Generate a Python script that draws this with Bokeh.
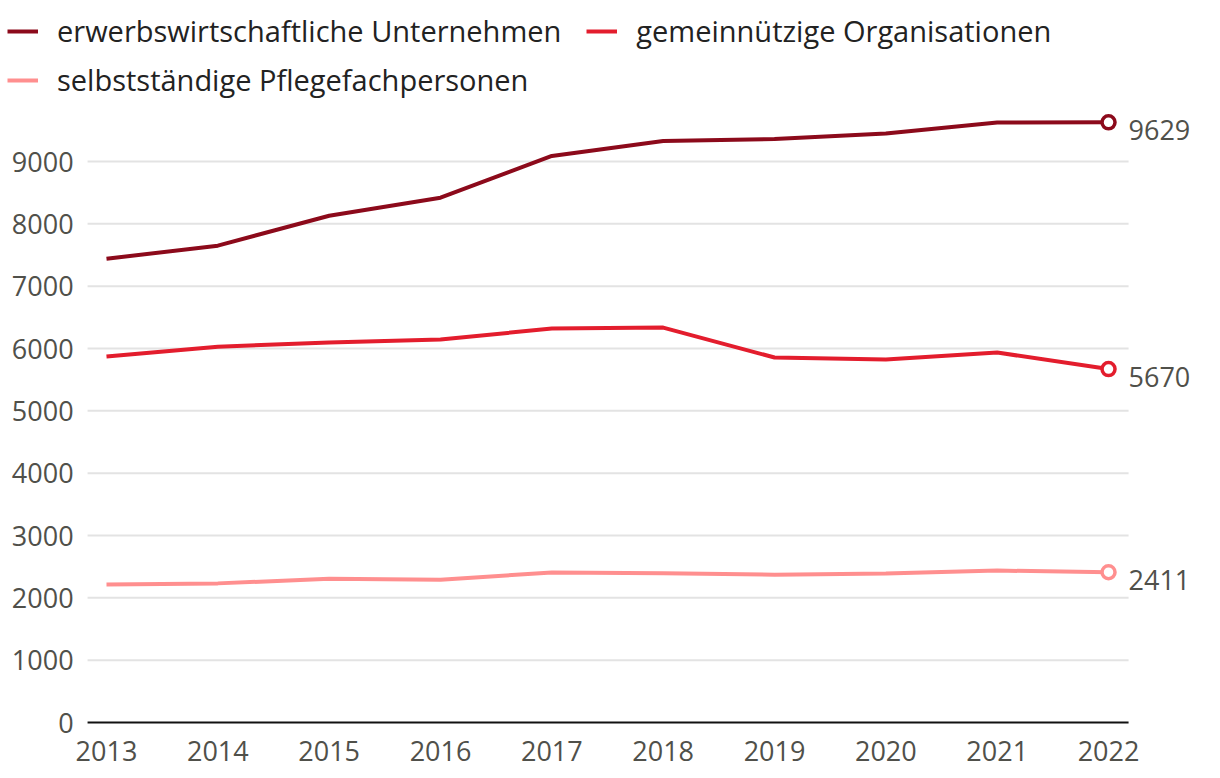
from bokeh.plotting import figure
from bokeh.models import ColumnDataSource, Legend, LegendItem, Range1d
from bokeh.core.properties import value
from bokeh.embed import file_html
from bokeh.resources import INLINE

years = [2013, 2014, 2015, 2016, 2017, 2018, 2019, 2020, 2021, 2022]
erwerb = [7440, 7650, 8130, 8420, 9090, 9330, 9360, 9450, 9625, 9629]
gemein = [5870, 6030, 6095, 6145, 6320, 6335, 5855, 5825, 5935, 5670]
selbst = [2215, 2232, 2305, 2292, 2405, 2395, 2372, 2392, 2437, 2411]
series_names = ["erwerbswirtschaftliche Unternehmen", "gemeinnützige Organisationen",
                "selbstständige Pflegefachpersonen"]
colors = ["#8c0a1b", "#e31d2d", "#ff8f8f"]
y_ticks = [0, 1000, 2000, 3000, 4000, 5000, 6000, 7000, 8000, 9000]
y_tick_labels = [str(v) for v in y_ticks]
x_tick_labels = [str(y) for y in years]

FONT = value("Open Sans")
TXT = "#50504a"

# plot-area extent in data units (frame of the reference chart)
X0, X1 = 2012.83, 2022.18

p = figure(width=1204, height=770, output_backend="svg", toolbar_location=None,
           x_range=Range1d(2012.048, 2022.862), y_range=Range1d(-770, 11583),
           min_border=0)
p.outline_line_color = None
p.axis.visible = False
p.grid.visible = False
p.background_fill_color = "white"
p.border_fill_color = "white"

# horizontal grid lines
grid_src = ColumnDataSource(dict(y=y_ticks[1:], x0=[X0] * (len(y_ticks) - 1),
                                 x1=[X1] * (len(y_ticks) - 1)))
p.segment(x0="x0", x1="x1", y0="y", y1="y", source=grid_src,
          line_color="#e3e3e3", line_width=2)
# baseline (x axis)
p.segment(x0=[X0], x1=[X1], y0=[0], y1=[0], line_color="#111111", line_width=2)

# y tick labels
ysrc = ColumnDataSource(dict(x=[X0] * len(y_ticks), y=y_ticks, t=y_tick_labels))
p.text(x="x", y="y", text="t", source=ysrc, x_offset=-14, text_align="right",
       text_baseline="middle", text_font=FONT, text_font_size="27px", text_color=TXT)
# x tick labels
xsrc = ColumnDataSource(dict(x=years, y=[0] * len(years), t=x_tick_labels))
p.text(x="x", y="y", text="t", source=xsrc, y_offset=28, text_align="center",
       text_baseline="middle", text_font=FONT, text_font_size="27px", text_color=TXT)

items = []
last_x, last_y, last_lbl = [], [], []
for name, vals, col in zip(series_names, [erwerb, gemein, selbst], colors):
    r = p.line(years, vals, line_color=col, line_width=4)
    p.scatter([years[-1]], [vals[-1]], marker="circle", size=13, fill_color="white",
              line_color=col, line_width=3.5)
    items.append(LegendItem(label=name, renderers=[r]))
    last_x.append(years[-1]); last_y.append(vals[-1]); last_lbl.append(str(vals[-1]))

lsrc = ColumnDataSource(dict(x=last_x, y=last_y, t=last_lbl))
p.text(x="x", y="y", text="t", source=lsrc, x_offset=20, y_offset=8,
       text_font=FONT, text_font_size="27px", text_color=TXT,
       text_baseline="middle", text_align="left")

common = dict(orientation="horizontal", label_text_font="Open Sans",
              label_text_font_size="29px", label_text_color="#222222",
              glyph_width=31, glyph_height=20, label_standoff=19,
              spacing=25, padding=0, margin=0, border_line_color=None,
              background_fill_alpha=0, label_height=30)
leg1 = Legend(items=items[:2], location=(7, 720), **common)
leg2 = Legend(items=items[2:], location=(7, 671), **common)
p.add_layout(leg1)
p.add_layout(leg2)

open("out.html", "w").write(file_html(p, INLINE))
